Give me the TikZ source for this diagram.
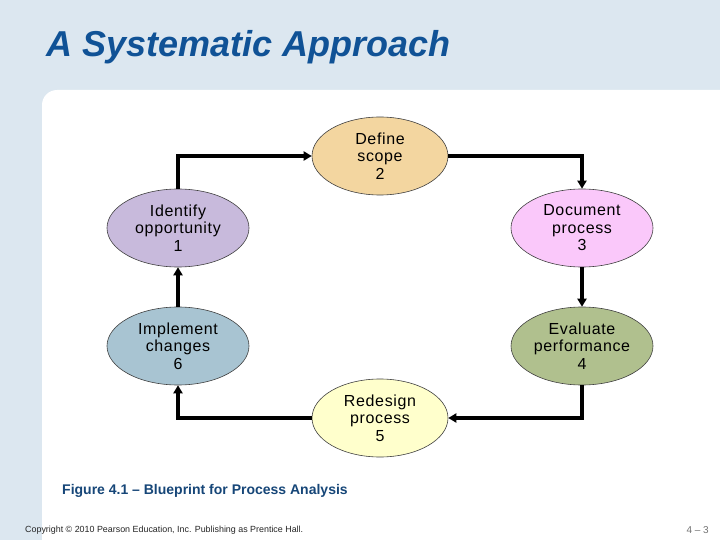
\documentclass[tikz,border=0pt]{standalone}
\usepackage{fontspec}
\setmainfont{Liberation Sans}
\usetikzlibrary{shapes.geometric,arrows.meta}
\definecolor{bgblue}{RGB}{220,231,240}
\definecolor{titleblue}{RGB}{16,82,150}
\definecolor{capblue}{RGB}{22,70,120}
\definecolor{cdefine}{RGB}{243,214,160}
\definecolor{cidentify}{RGB}{200,186,220}
\definecolor{cdocument}{RGB}{250,200,250}
\definecolor{cimplement}{RGB}{168,196,210}
\definecolor{cevaluate}{RGB}{176,192,142}
\definecolor{credesign}{RGB}{255,255,204}
\tikzset{
  stagebox/.style={ellipse, draw=black!75, line width=0.6pt, inner sep=0pt,
    minimum width=142pt, minimum height=78pt, align=center,
    font=\fontsize{16}{17.5}\selectfont\addfontfeature{LetterSpace=4}},
  smallstage/.style={stagebox, minimum width=136pt},
  flow/.style={line width=3.5pt, -{Triangle[length=8pt,width=9pt]}},
}
\begin{document}
\begin{tikzpicture}[x=1pt,y=-1pt]
\useasboundingbox (0,0) rectangle (720,540);
\fill[bgblue] (0,0) rectangle (720,540);
\fill[white, rounded corners=15pt] (42,90) -- (740,90) -- (740,560) -- (42,560) -- cycle;
\node[anchor=base west, inner sep=0pt, text=titleblue, font=\fontsize{36}{40}\selectfont\bfseries\itshape] (title) at (46,57) {A Systematic Approach};

\node[smallstage, fill=cdefine] (define) at (380,156) {Define\\scope\\2};
\node[stagebox, fill=cidentify] (identify) at (178,228) {Identify\\opportunity\\1};
\node[stagebox, fill=cdocument] (document) at (582,228) {Document\\process\\3};
\node[stagebox, fill=cimplement] (implement) at (178,346) {Implement\\changes\\6};
\node[stagebox, fill=cevaluate] (evaluate) at (582,346) {Evaluate\\performance\\4};
\node[smallstage, fill=credesign] (redesign) at (380,418) {Redesign\\process\\5};

\draw[flow] (identify.north) |- (define.west);
\draw[flow] (define.east) -| (document.north);
\draw[flow] (document.south) -- (evaluate.north);
\draw[flow] (evaluate.south) |- (redesign.east);
\draw[flow] (redesign.west) -| (implement.south);
\draw[flow] (implement.north) -- (identify.south);

\node[anchor=base west, inner sep=0pt, text=capblue, font=\fontsize{14}{16}\selectfont\bfseries] (caption) at (62,494) {Figure 4.1 -- Blueprint for Process Analysis};
\node[anchor=base west, inner sep=0pt, text=black!85, font=\fontsize{8.9}{10}\selectfont] (copy) at (25,532) {Copyright © 2010 Pearson Education, Inc. Publishing as Prentice Hall.};
\node[anchor=base east, inner sep=0pt, text=black!55, font=\fontsize{10}{12}\selectfont] (page) at (709,533) {4 -- 3};
\end{tikzpicture}
\end{document}
